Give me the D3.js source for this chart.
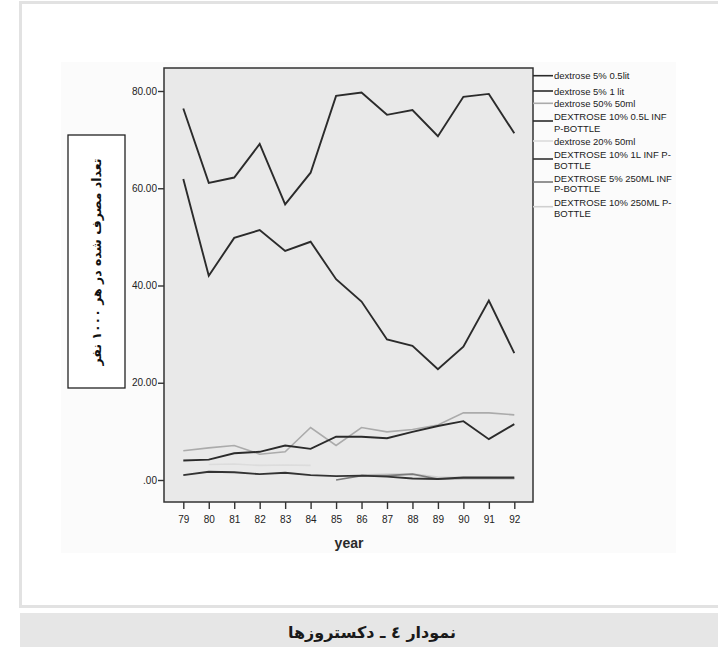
<!DOCTYPE html>
<html><head><meta charset="utf-8">
<script src="https://cdn.jsdelivr.net/npm/d3@7"></script>
<style>body{margin:0;background:#fff}svg{display:block}</style>
</head><body>
<svg id="c" width="718" height="647"></svg>
<script>
const years = [79,80,81,82,83,84,85,86,87,88,89,90,91,92];
const yTicks = [0,20,40,60,80];
const seriesNames = ["dextrose 5% 0.5lit","dextrose 5% 1 lit","dextrose 50% 50ml","DEXTROSE 10% 0.5L INF P-BOTTLE","dextrose 20% 50ml","DEXTROSE 10% 1L INF P-BOTTLE","DEXTROSE 5% 250ML INF P-BOTTLE","DEXTROSE 10% 250ML P-BOTTLE"];
const legendLines = [["dextrose 5% 0.5lit"],["dextrose 5% 1 lit"],["dextrose 50% 50ml"],["DEXTROSE 10% 0.5L INF","P-BOTTLE"],["dextrose 20% 50ml"],["DEXTROSE 10% 1L INF P-","BOTTLE"],["DEXTROSE 5% 250ML INF","P-BOTTLE"],["DEXTROSE 10% 250ML P-","BOTTLE"]];
const dex5_05 = [61.9,42.0,49.8,51.4,47.1,49.0,41.3,36.7,28.9,27.6,22.8,27.4,36.9,26.1];
const dex5_1 = [76.4,61.1,62.2,69.1,56.7,63.2,79.0,79.7,75.1,76.1,70.7,78.8,79.4,71.3];
const dex50_50 = [6.0,6.6,7.1,5.3,5.8,10.8,7.1,10.8,9.9,10.4,11.3,13.8,13.8,13.4];
const dex10_05 = [4.0,4.2,5.5,5.8,7.1,6.4,8.9,8.9,8.6,9.9,11.1,12.1,8.4,11.5];
const dex20_50 = [null,3.2,3.3,3.0,3.1,3.0,null,null,null,null,null,null,null,null];
const dex10_1 = [1.0,1.7,1.6,1.2,1.5,1.0,0.8,0.9,0.7,0.3,0.2,0.5,0.5,0.5];
const dex5_250 = [null,null,null,null,null,null,0.0,0.9,0.9,1.2,0.2,0.3,0.3,0.3];
const dex10_250 = [null,null,null,null,null,null,null,1.0,1.2,1.3,0.6,0.5,0.5,0.4];
const seriesValues = [dex5_05,dex5_1,dex50_50,dex10_05,dex20_50,dex10_1,dex5_250,dex10_250];
const seriesColors = ["#2b2b2b","#2b2b2b","#ababab","#2b2b2b","#dcdcdc","#333333","#7a7a7a","#d0d0d0"];

const svg = d3.select("#c");
// outer frame
svg.append("rect").attr("x",20.5).attr("y",2.5).attr("width",720).attr("height",604).attr("fill","#fff").attr("stroke","#e2e2e2").attr("stroke-width",3);
svg.append("rect").attr("x",61).attr("y",62).attr("width",615).attr("height",491).attr("fill","#fbfbfb");
// caption bar
svg.append("rect").attr("x",20).attr("y",613).attr("width",700).attr("height",34).attr("fill","#e6e6e6");
svg.append("text").attr("x",372).attr("y",638).attr("text-anchor","middle").attr("font-family","DejaVu Sans").attr("font-weight","bold").attr("font-size",16).attr("fill","#1a1a1a").attr("direction","rtl").text("نمودار ٤ ـ دکستروزها");

const x = d3.scaleLinear().domain([79,92]).range([183.3,514.3]);
const y = d3.scaleLinear().domain([0,80]).range([480,91]);
const L=164, R=533, T=68, B=502;

svg.append("rect").attr("x",L).attr("y",T).attr("width",R-L).attr("height",B-T).attr("fill","#e9e9e9");

const line = d3.line().defined(d=>d[1]!=null).x(d=>x(d[0])).y(d=>y(d[1]));
const order = [7,4,6,2,5,3,0,1];
order.forEach(i=>{
  svg.append("path").datum(years.map((yr,j)=>[yr,seriesValues[i][j]]))
    .attr("d",line).attr("fill","none").attr("stroke",seriesColors[i])
    .attr("stroke-width", seriesColors[i]==="#2b2b2b"||seriesColors[i]==="#333333"?1.9:1.6)
    .attr("stroke-linejoin","miter");
});

svg.append("rect").attr("x",L).attr("y",T).attr("width",R-L).attr("height",B-T).attr("fill","none").attr("stroke","#333").attr("stroke-width",1.5);

const yAxis = svg.append("g").attr("transform",`translate(${L},0)`)
  .call(d3.axisLeft(y).tickValues(yTicks).tickSize(6).tickFormat(d=>d===0?".00":d3.format(".2f")(d)));
const xAxis = svg.append("g").attr("transform",`translate(0,${B})`)
  .call(d3.axisBottom(x).tickValues(years).tickSize(7).tickFormat(d=>String(d)));
[yAxis,xAxis].forEach(g=>{
  g.select(".domain").remove();
  g.selectAll("line").attr("stroke","#333").attr("stroke-width",1.4);
  g.selectAll("text").attr("font-family","Liberation Sans, Arial").attr("font-size",10).attr("fill","#222");
});
yAxis.selectAll("text").attr("x",-7);
xAxis.selectAll("text").attr("y",14);

svg.append("text").attr("x",349).attr("y",548).attr("text-anchor","middle").attr("font-family","Liberation Sans, Arial").attr("font-weight","bold").attr("font-size",14).attr("fill","#2a2a2a").text("year");

// y label box
svg.append("rect").attr("x",68).attr("y",135).attr("width",57).attr("height",253).attr("fill","#fff").attr("stroke","#222").attr("stroke-width",1.3);
svg.append("text").attr("transform","translate(101,262) rotate(-90)").attr("text-anchor","middle")
  .attr("font-family","DejaVu Sans").attr("font-weight","bold").attr("font-size",12.5).attr("fill","#111").attr("direction","rtl")
  .text("تعداد مصرف شده در هر ۱۰۰۰ نفر");

// legend
const legY = [[75.7],[91],[103.3],[116.7,128.3],[141],[154,165.7],[178,188.5],[202.7,213.5]];
const legMark = [75.7,91,103.3,121,141,159,182,206.7];
const lg = svg.append("g");
seriesNames.forEach((n,i)=>{
  lg.append("line").attr("x1",R).attr("x2",553).attr("y1",legMark[i]).attr("y2",legMark[i])
    .attr("stroke",seriesColors[i]).attr("stroke-width",1.6);
  legendLines[i].forEach((t,k)=>{
    lg.append("text").attr("x",554).attr("y",legY[i][k]+3.5).attr("font-family","Liberation Sans, Arial")
      .attr("font-size",9.5).attr("fill","#222").text(t);
  });
});
</script>
</body></html>
